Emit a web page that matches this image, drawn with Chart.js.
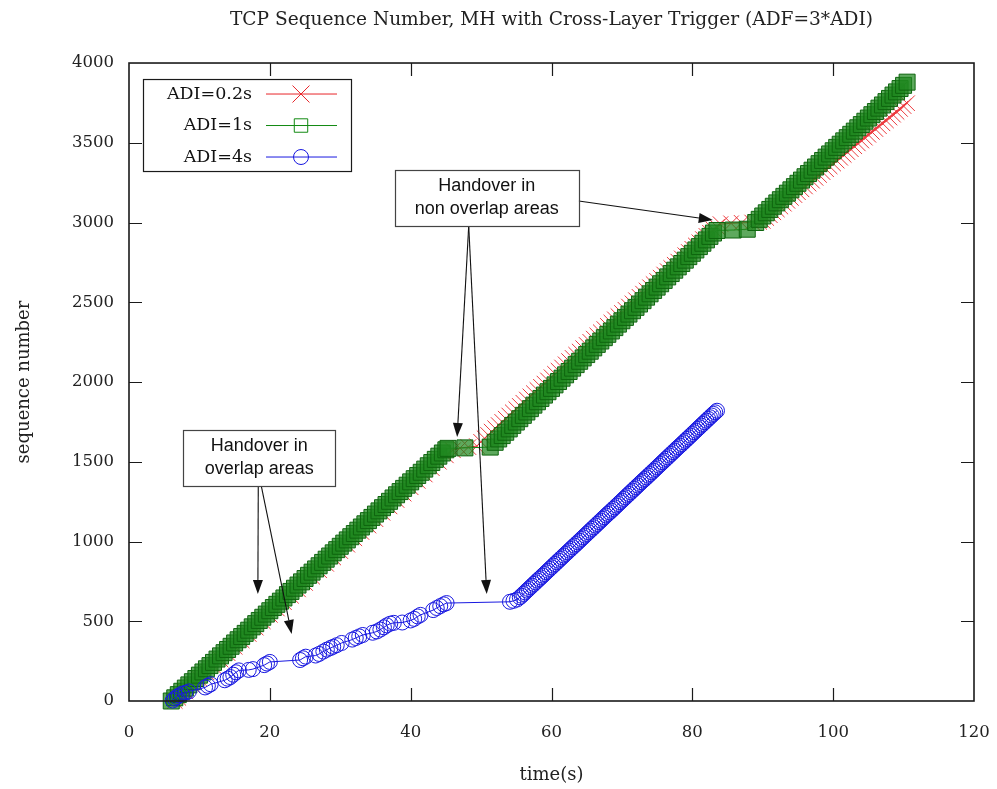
<!DOCTYPE html>
<html>
<head>
<meta charset="utf-8">
<title>TCP Sequence Number</title>
<script src="https://cdn.jsdelivr.net/npm/chart.js@4.4.1/dist/chart.umd.min.js"></script>
<style>
  html, body { margin: 0; padding: 0; background: #ffffff; }
  #wrap { width: 997px; height: 789px; }
</style>
</head>
<body>
<div id="wrap"><canvas id="chart" width="997" height="789"></canvas></div>
<script>
// ---- axis ticks ----
const xTickValues = [0, 20, 40, 60, 80, 100, 120];
const yTickValues = [0, 500, 1000, 1500, 2000, 2500, 3000, 3500, 4000];

// ---- series names ----
const seriesNames = ['ADI=0.2s', 'ADI=1s', 'ADI=4s'];

// ---- ADI=0.2s : time (s) and sequence number ----
const adi02Time = [
  6.5, 7, 8, 9, 10, 11, 12, 13, 14, 15, 16, 17, 18, 19, 20, 21, 22, 23, 24, 25,
  26, 27, 28, 29, 30, 31, 32, 33, 34, 35, 36, 37, 38, 39, 40, 41, 42, 43, 44, 45, 46,
  47, 48.2, 49.4,
  50, 50.5, 51, 51.5, 52, 52.5, 53, 53.5, 54, 54.5, 55, 55.5, 56, 56.5, 57, 57.5, 58, 58.5,
  59, 59.5, 60, 60.5, 61, 61.5, 62, 62.5, 63, 63.5, 64, 64.5, 65, 65.5, 66, 66.5, 67, 67.5,
  68, 68.5, 69, 69.5, 70, 70.5, 71, 71.5, 72, 72.5, 73, 73.5, 74, 74.5, 75, 75.5, 76, 76.5,
  77, 77.5, 78, 78.5, 79, 79.5, 80, 80.5, 81, 81.5, 82, 82.5, 83, 83.5, 84,
  85.5, 87, 88.5, 89.5,
  90, 90.5, 91, 91.5, 92, 92.5, 93, 93.5, 94, 94.5, 95, 95.5, 96, 96.5, 97, 97.5, 98, 98.5,
  99, 99.5, 100, 100.5, 101, 101.5, 102, 102.5, 103, 103.5, 104, 104.5, 105, 105.5, 106, 106.5,
  107, 107.5, 108, 108.5, 109, 109.5, 110, 110.5
];
const adi02Seq = [
  0, 20, 60, 100, 140, 180, 220, 260, 300, 340, 380, 420, 460, 500, 540, 580, 620, 660, 700, 740,
  780, 820, 860, 900, 940, 980, 1020, 1060, 1100, 1140, 1180, 1220, 1260, 1300, 1340, 1380, 1420, 1460, 1500, 1540, 1572,
  1586, 1592, 1598,
  1625, 1647, 1668, 1689, 1710, 1730, 1750, 1770, 1790, 1810, 1830, 1850, 1870, 1890, 1910, 1930, 1950, 1970,
  1990, 2010, 2030, 2051, 2071, 2091, 2111, 2131, 2151, 2171, 2191, 2212, 2232, 2252, 2272, 2292, 2312, 2332,
  2352, 2373, 2393, 2413, 2433, 2453, 2473, 2493, 2513, 2534, 2554, 2574, 2594, 2614, 2634, 2654, 2674, 2695,
  2715, 2735, 2755, 2775, 2795, 2815, 2835, 2856, 2876, 2896, 2916, 2936, 2956, 2973, 2990,
  2995, 2998, 3000, 3004,
  3010, 3028, 3046, 3064, 3082, 3100, 3118, 3136, 3154, 3172, 3190, 3208, 3226, 3244, 3262, 3280, 3298, 3316,
  3334, 3352, 3370, 3388, 3406, 3424, 3442, 3460, 3478, 3496, 3514, 3532, 3550, 3568, 3586, 3604,
  3622, 3640, 3658, 3676, 3694, 3712, 3730, 3748
];

// ---- ADI=1s ----
const adi1Time = [
  6, 6.5, 7, 7.5, 8, 8.5, 9, 9.5, 10, 10.5, 11, 11.5, 12, 12.5, 13, 13.5, 14, 14.5, 15, 15.5,
  16, 16.5, 17, 17.5, 18, 18.5, 19, 19.5, 20, 20.5, 21, 21.5, 22, 22.5, 23, 23.5, 24, 24.5, 25, 25.5,
  26, 26.5, 27, 27.5, 28, 28.5, 29, 29.5, 30, 30.5, 31, 31.5, 32, 32.5, 33, 33.5, 34, 34.5, 35, 35.5,
  36, 36.5, 37, 37.5, 38, 38.5, 39, 39.5, 40, 40.5, 41, 41.5, 42, 42.5, 43, 43.5, 44, 44.5, 45,
  45.3, 47.7, 51.3,
  52, 52.5, 53, 53.5, 54, 54.5, 55, 55.5, 56, 56.5, 57, 57.5, 58, 58.5, 59, 59.5, 60, 60.5,
  61, 61.5, 62, 62.5, 63, 63.5, 64, 64.5, 65, 65.5, 66, 66.5, 67, 67.5, 68, 68.5, 69, 69.5,
  70, 70.5, 71, 71.5, 72, 72.5, 73, 73.5, 74, 74.5, 75, 75.5, 76, 76.5, 77, 77.5, 78, 78.5,
  79, 79.5, 80, 80.5, 81, 81.5, 82, 82.5, 83, 83.5,
  85.8, 87.8,
  89, 89.5, 90, 90.5, 91, 91.5, 92, 92.5, 93, 93.5, 94, 94.5, 95, 95.5, 96, 96.5, 97, 97.5,
  98, 98.5, 99, 99.5, 100, 100.5, 101, 101.5, 102, 102.5, 103, 103.5, 104, 104.5, 105, 105.5,
  106, 106.5, 107, 107.5, 108, 108.5, 109, 109.5, 110, 110.5
];
const adi1Seq = [
  0, 20, 40, 61, 81, 101, 121, 141, 162, 182, 202, 222, 242, 263, 283, 303, 323, 343, 364, 384,
  404, 424, 444, 465, 485, 505, 525, 545, 566, 586, 606, 626, 646, 667, 687, 707, 727, 747, 768, 788,
  808, 828, 848, 869, 889, 909, 929, 949, 970, 990, 1010, 1030, 1050, 1071, 1091, 1111, 1131, 1151, 1172, 1192,
  1212, 1232, 1252, 1273, 1293, 1313, 1333, 1353, 1374, 1394, 1414, 1434, 1454, 1475, 1495, 1515, 1535, 1555, 1575,
  1584, 1587, 1592,
  1622, 1643, 1664, 1685, 1706, 1728, 1749, 1770, 1791, 1812, 1833, 1855, 1876, 1897, 1918, 1939, 1960, 1982,
  2003, 2024, 2045, 2066, 2087, 2109, 2130, 2151, 2172, 2193, 2214, 2236, 2257, 2278, 2299, 2320, 2341, 2363,
  2384, 2405, 2426, 2447, 2468, 2489, 2510, 2532, 2553, 2574, 2595, 2616, 2637, 2659, 2680, 2701, 2722, 2743,
  2764, 2786, 2807, 2828, 2849, 2870, 2891, 2913, 2934, 2950,
  2953, 2958,
  3000, 3020, 3041, 3061, 3082, 3102, 3123, 3143, 3164, 3184, 3205, 3225, 3246, 3266, 3287, 3307, 3328, 3348,
  3369, 3389, 3410, 3430, 3450, 3471, 3491, 3512, 3532, 3553, 3573, 3594, 3614, 3635, 3655, 3676,
  3696, 3717, 3737, 3758, 3778, 3799, 3819, 3840, 3860, 3880
];

// ---- ADI=4s ----
const adi4Time = [
  6.2, 6.5, 6.8, 7.1, 7.5, 8.0, 8.5,
  10.8, 11.2, 11.6,
  13.6, 14.0, 14.4, 14.8, 15.2, 15.6,
  17.0, 17.6, 19.2, 19.6, 20.0,
  24.3, 24.7, 25.1, 26.5, 27.0, 27.6, 28.1, 28.6, 29.0, 29.5, 30.2,
  31.7, 32.2, 32.7, 33.2, 34.6, 35.2, 35.7, 36.2, 36.6, 37.1, 37.6,
  38.8, 40.0, 40.5, 41.0, 41.4, 43.2, 43.7, 44.2, 44.7, 45.1,
  54.1, 54.6, 55.1,
  55.5, 55.75, 56, 56.25, 56.5, 56.75, 57, 57.25, 57.5, 57.75, 58, 58.25, 58.5, 58.75,
  59, 59.25, 59.5, 59.75, 60, 60.25, 60.5, 60.75, 61, 61.25, 61.5, 61.75, 62, 62.25,
  62.5, 62.75, 63, 63.25, 63.5, 63.75, 64, 64.25, 64.5, 64.75, 65, 65.25, 65.5, 65.75,
  66, 66.25, 66.5, 66.75, 67, 67.25, 67.5, 67.75, 68, 68.25, 68.5, 68.75, 69, 69.25,
  69.5, 69.75, 70, 70.25, 70.5, 70.75, 71, 71.25, 71.5, 71.75, 72, 72.25, 72.5, 72.75,
  73, 73.25, 73.5, 73.75, 74, 74.25, 74.5, 74.75, 75, 75.25, 75.5, 75.75, 76, 76.25,
  76.5, 76.75, 77, 77.25, 77.5, 77.75, 78, 78.25, 78.5, 78.75, 79, 79.25, 79.5, 79.75,
  80, 80.25, 80.5, 80.75, 81, 81.25, 81.5, 81.75, 82, 82.25, 82.5, 82.75, 83, 83.25, 83.5
];
const adi4Seq = [
  3, 15, 25, 35, 45, 52, 60,
  85, 95, 105,
  130, 140, 150, 165, 180, 192,
  195, 200, 225, 235, 245,
  257, 268, 278, 285, 295, 310, 322, 332, 340, 350, 364,
  385, 395, 405, 414, 428, 436, 448, 462, 474, 485, 490,
  492, 505, 515, 530, 540, 570, 583, 595, 606, 614,
  622, 628, 636,
  650, 660, 671, 681, 692, 702, 713, 723, 734, 744, 755, 765, 775, 786,
  796, 807, 817, 828, 838, 849, 859, 870, 880, 891, 901, 912, 922, 932,
  943, 953, 964, 974, 984, 995, 1005, 1016, 1026, 1037, 1047, 1058, 1068, 1079,
  1089, 1100, 1110, 1121, 1131, 1142, 1152, 1163, 1173, 1183, 1193, 1204, 1214, 1225,
  1235, 1246, 1256, 1267, 1277, 1288, 1298, 1309, 1319, 1330, 1340, 1351, 1361, 1372,
  1382, 1392, 1402, 1413, 1423, 1434, 1444, 1455, 1465, 1476, 1486, 1497, 1507, 1518,
  1528, 1539, 1549, 1560, 1570, 1581, 1591, 1601, 1611, 1622, 1632, 1643, 1653, 1664,
  1674, 1685, 1695, 1706, 1716, 1727, 1737, 1748, 1758, 1769, 1779, 1790, 1800, 1810, 1820
];

// pair two arrays into {x, y} points
function pairUp(ts, vs) {
  return ts.map((t, i) => ({ x: t, y: vs[i] }));
}

const SERIF = '"DejaVu Serif", "Liberation Serif", serif';
const SANS = '"Liberation Sans", Arial, sans-serif';

// callout boxes with arrows (anchored in data units, offsets in px)
const callouts = [
  {
    lines: ['Handover in', 'non overlap areas'],
    at: [50.8, 3154], w: 184, h: 56,
    arrows: [
      { from: [92, 3], to: [82.9, 3016] },
      { from: [-18, 28], to: [46.6, 1655] },
      { from: [-18, 28], to: [50.8, 671] }
    ]
  },
  {
    lines: ['Handover in', 'overlap areas'],
    at: [18.5, 1524], w: 152, h: 56,
    arrows: [
      { from: [-1, 28], to: [18.3, 671] },
      { from: [2, 28], to: [23.1, 420] }
    ]
  }
];

function arrow(ctx, x0, y0, x1, y1) {
  const ang = Math.atan2(y1 - y0, x1 - x0);
  const len = 14, half = 5;
  const bx = x1 - len * Math.cos(ang), by = y1 - len * Math.sin(ang);
  ctx.beginPath();
  ctx.moveTo(x0, y0);
  ctx.lineTo(bx, by);
  ctx.stroke();
  ctx.beginPath();
  ctx.moveTo(x1, y1);
  ctx.lineTo(bx + half * Math.sin(ang), by - half * Math.cos(ang));
  ctx.lineTo(bx - half * Math.sin(ang), by + half * Math.cos(ang));
  ctx.closePath();
  ctx.fill();
}

// frame, inward ticks, key box and callouts in the gnuplot manner
const decorations = {
  id: 'decorations',
  afterDatasetsDraw(chart) {
    const { ctx, chartArea: a, scales: { x, y } } = chart;
    ctx.save();
    ctx.strokeStyle = '#1a1a1a';
    ctx.lineWidth = 1.6;
    ctx.strokeRect(a.left, a.top, a.right - a.left, a.bottom - a.top);

    ctx.lineWidth = 1.2;
    ctx.beginPath();
    const tl = 13;
    x.ticks.forEach(t => {
      const px = Math.round(x.getPixelForValue(t.value)) + 0.5;
      if (px <= a.left + 2 || px >= a.right - 2) return;
      ctx.moveTo(px, a.bottom); ctx.lineTo(px, a.bottom - tl);
      ctx.moveTo(px, a.top); ctx.lineTo(px, a.top + tl);
    });
    y.ticks.forEach(t => {
      const py = Math.round(y.getPixelForValue(t.value)) + 0.5;
      if (py <= a.top + 2 || py >= a.bottom - 2) return;
      ctx.moveTo(a.left, py); ctx.lineTo(a.left + tl, py);
      ctx.moveTo(a.right, py); ctx.lineTo(a.right - tl, py);
    });
    ctx.stroke();

    // key
    const kx = a.left + 14, ky = a.top + 16, kw = 208, kh = 92;
    ctx.fillStyle = '#ffffff';
    ctx.fillRect(kx, ky, kw, kh);
    ctx.strokeStyle = '#1a1a1a';
    ctx.lineWidth = 1.2;
    ctx.strokeRect(kx + 0.5, ky + 0.5, kw, kh);
    ctx.font = '17.5px ' + SERIF;
    ctx.textAlign = 'right';
    ctx.textBaseline = 'middle';
    chart.data.datasets.forEach((ds, i) => {
      const ry = ky + 15 + i * 31.5;
      ctx.fillStyle = '#111';
      ctx.fillText(ds.label, kx + 109, ry);
      ctx.strokeStyle = ds.borderColor;
      ctx.lineWidth = 1;
      ctx.beginPath();
      ctx.moveTo(kx + 123, ry); ctx.lineTo(kx + 194, ry);
      ctx.stroke();
      ctx.fillStyle = 'rgba(0,0,0,0)';
      ctx.strokeStyle = ds.borderColor;
      Chart.helpers.drawPoint(ctx, {
        pointStyle: ds.pointStyle, radius: ds.legendRadius, rotation: 0, borderWidth: 1
      }, kx + 158, ry);
    });

    // callouts
    ctx.font = '18px ' + SANS;
    ctx.textAlign = 'center';
    callouts.forEach(c => {
      const cx = x.getPixelForValue(c.at[0]);
      const cy = y.getPixelForValue(c.at[1]);
      ctx.strokeStyle = '#111';
      ctx.fillStyle = '#111';
      ctx.lineWidth = 1.1;
      c.arrows.forEach(ar => {
        arrow(ctx, cx + ar.from[0], cy + ar.from[1],
          x.getPixelForValue(ar.to[0]), y.getPixelForValue(ar.to[1]));
      });
      ctx.fillStyle = '#ffffff';
      ctx.fillRect(cx - c.w / 2, cy - c.h / 2, c.w, c.h);
      ctx.strokeStyle = '#444';
      ctx.lineWidth = 1.2;
      ctx.strokeRect(Math.round(cx - c.w / 2) + 0.5, Math.round(cy - c.h / 2) + 0.5, c.w, c.h);
      ctx.fillStyle = '#111';
      ctx.fillText(c.lines[0], cx, cy - 11.5);
      ctx.fillText(c.lines[1], cx, cy + 11.5);
    });
    ctx.restore();
  }
};

const chart = new Chart(document.getElementById('chart'), {
  type: 'scatter',
  data: {
    datasets: [
      {
        label: seriesNames[0],
        data: pairUp(adi02Time, adi02Seq),
        showLine: true,
        borderColor: '#e8252a',
        backgroundColor: 'rgba(0,0,0,0)',
        borderWidth: 1,
        pointStyle: 'crossRot',
        pointRadius: 11,
        pointBorderWidth: 1,
        pointBorderColor: '#ec3a3e',
        legendRadius: 12,
        order: 3,
        clip: false
      },
      {
        label: seriesNames[1],
        data: pairUp(adi1Time, adi1Seq),
        showLine: true,
        borderColor: '#128a12',
        backgroundColor: 'rgba(0,128,0,0.35)',
        borderWidth: 1,
        pointStyle: 'rect',
        pointRadius: 11.3,
        pointBorderWidth: 1,
        pointBorderColor: '#0e650e',
        pointBackgroundColor: 'rgba(32,136,32,0.72)',
        legendRadius: 9.5,
        order: 2,
        clip: false
      },
      {
        label: seriesNames[2],
        data: pairUp(adi4Time, adi4Seq),
        showLine: true,
        borderColor: '#1818e0',
        backgroundColor: 'rgba(0,0,0,0)',
        borderWidth: 1,
        pointStyle: 'circle',
        pointRadius: 7.5,
        pointBorderWidth: 1,
        pointBorderColor: '#1818e0',
        pointBackgroundColor: 'rgba(0,0,0,0)',
        legendRadius: 7.5,
        order: 1,
        clip: false
      }
    ]
  },
  options: {
    responsive: false,
    animation: false,
    devicePixelRatio: 1,
    layout: { padding: { left: 0, right: 23, top: 0, bottom: 0 } },
    plugins: {
      legend: { display: false },
      tooltip: { enabled: false },
      title: {
        display: true,
        fullSize: false,
        text: 'TCP Sequence Number, MH with Cross-Layer Trigger (ADF=3*ADI)',
        color: '#222',
        font: { family: SERIF, size: 18.6, weight: 'normal', lineHeight: 1.2 },
        padding: { top: 9, bottom: 31.7 }
      }
    },
    scales: {
      x: {
        type: 'linear',
        min: 0, max: 120,
        afterBuildTicks: s => { s.ticks = xTickValues.map(v => ({ value: v })); },
        afterFit: s => { s.height = 88; s.paddingLeft = 0; s.paddingRight = 0; },
        grid: { display: false, drawTicks: false },
        border: { display: false },
        ticks: {
          color: '#222', padding: 22, maxRotation: 0,
          font: { family: SERIF, size: 16.5 },
          callback: v => String(v)
        },
        title: {
          display: true, text: 'time(s)', color: '#222',
          font: { family: SERIF, size: 18, lineHeight: 1.2 }, padding: 3
        }
      },
      y: {
        type: 'linear',
        min: 0, max: 4000,
        afterBuildTicks: s => { s.ticks = yTickValues.map(v => ({ value: v })); },
        afterFit: s => { s.width = 129; s.paddingTop = 0; s.paddingBottom = 0; },
        grid: { display: false, drawTicks: false },
        border: { display: false },
        ticks: {
          color: '#222', padding: 15,
          font: { family: SERIF, size: 16.5 },
          callback: v => String(v)
        },
        title: {
          display: true, text: 'sequence number', color: '#222',
          font: { family: SERIF, size: 18, lineHeight: 1.2 }, padding: 14
        }
      }
    }
  },
  plugins: [decorations]
});
</script>
</body>
</html>
